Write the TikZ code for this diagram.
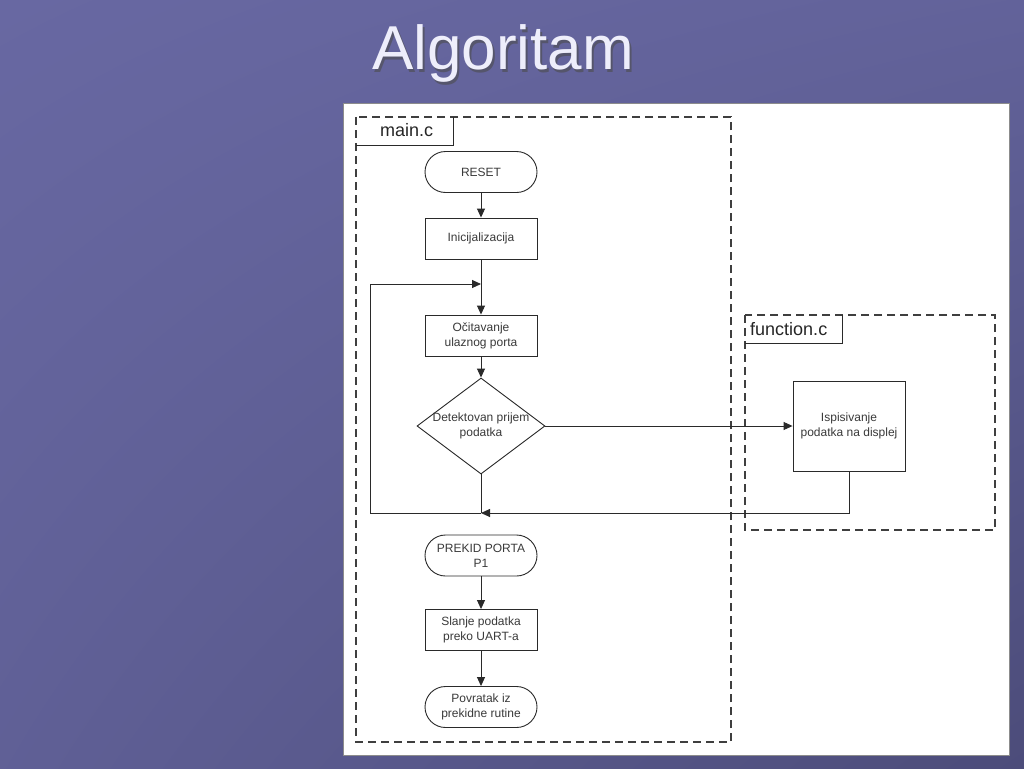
\documentclass[tikz,border=0pt]{standalone}
\usepackage{fontspec}
\setmainfont{Liberation Sans}
\usetikzlibrary{arrows.meta,shapes.geometric,shadings}
\definecolor{bgA}{HTML}{6868A2}
\definecolor{bgB}{HTML}{4C4C7A}
\definecolor{titlec}{HTML}{EEEEFB}
\definecolor{txt}{HTML}{3A3A3A}
\definecolor{ln}{HTML}{2A2A2A}
\tikzset{
  box/.style={draw=ln, line width=0.9pt, fill=white, minimum width=112pt, minimum height=41pt, inner sep=1pt, align=center, text=txt, font=\fontsize{12}{15}\selectfont},
  terminal/.style={box, rounded corners=20.5pt},
  decision/.style={draw=ln, line width=0.9pt, diamond, minimum width=128pt, minimum height=96pt, inner sep=0pt},
  ntext/.style={text=txt, align=center, font=\fontsize{12}{15}\selectfont},
  arr/.style={draw=ln, line width=0.9pt, -{Triangle[length=9pt,width=8pt]}},
  conn/.style={draw=ln, line width=0.9pt},
  group/.style={draw=ln!90, line width=1.4pt, dash pattern=on 8pt off 5pt},
  tab/.style={draw=ln, line width=0.9pt},
  tablabel/.style={text=black!85, anchor=base west, inner sep=0pt, font=\fontsize{18}{20}\selectfont}
}
\begin{document}
\begin{tikzpicture}[x=1pt,y=-1pt]
\useasboundingbox (0,0) rectangle (1024,768);
% background
\shade[upper left=bgA, upper right=bgA!80!bgB, lower left=bgA!70!bgB, lower right=bgB] (0,0) rectangle (1024,768);
% title
\node[anchor=base, text=black!70, opacity=0.6, font=\fontsize{62}{70}\selectfont] (titleshadow) at (505,72) {Algoritam};
\node[anchor=base, text=titlec, font=\fontsize{62}{70}\selectfont] (title) at (503,70) {Algoritam};
% white panel
\path[fill=white, draw=black!45, line width=0.8pt] (343,103) rectangle (1009,755);
% group boxes
\draw[group] (356,117) rectangle (731,742);
\draw[tab] (356,145) -- (453,145) -- (453,117);
\node[tablabel] (mainlbl) at (380,136) {main.c};
\draw[group] (745,315) rectangle (995,530);
\draw[tab] (745,343) -- (842,343) -- (842,315);
\node[tablabel] (funclbl) at (750,335) {function.c};
% nodes
\node[terminal] (reset) at (481,172) {RESET};
\node[box] (init) at (481,238.5) {Inicijalizacija};
\node[box] (ocit) at (481,335.5) {Očitavanje\\ulaznog porta};
\node[decision] (dec) at (481,426) {};
\node[ntext] (dectext) at (481,426) {Detektovan prijem\\podatka};
\node[box, minimum width=112pt, minimum height=90pt] (isp) at (849,426) {Ispisivanje\\podatka na displej};
\node[terminal] (prekid) at (481,555.5) {PREKID PORTA\\P1};
\node[box] (slanje) at (481,630) {Slanje podatka\\preko UART-a};
\node[terminal] (povr) at (481,707) {Povratak iz\\prekidne rutine};
% junction coordinates
\coordinate (j1) at (481,284);
\coordinate (j2) at (481,513);
\coordinate (cL1) at (370,513);
\coordinate (cL2) at (370,284);
% connectors
\draw[arr] (reset) -- (init);
\draw[conn] (init) -- (j1);
\draw[arr] (j1) -- (ocit);
\draw[arr] (ocit) -- (dec);
\draw[arr] (dec) -- (isp);
\draw[conn] (dec) -- (j2);
\draw[arr] (isp.south) |- (j2);
\draw[arr] (j2) -- (cL1) -- (cL2) -- (j1);
\draw[arr] (prekid) -- (slanje);
\draw[arr] (slanje) -- (povr);
\end{tikzpicture}
\end{document}
